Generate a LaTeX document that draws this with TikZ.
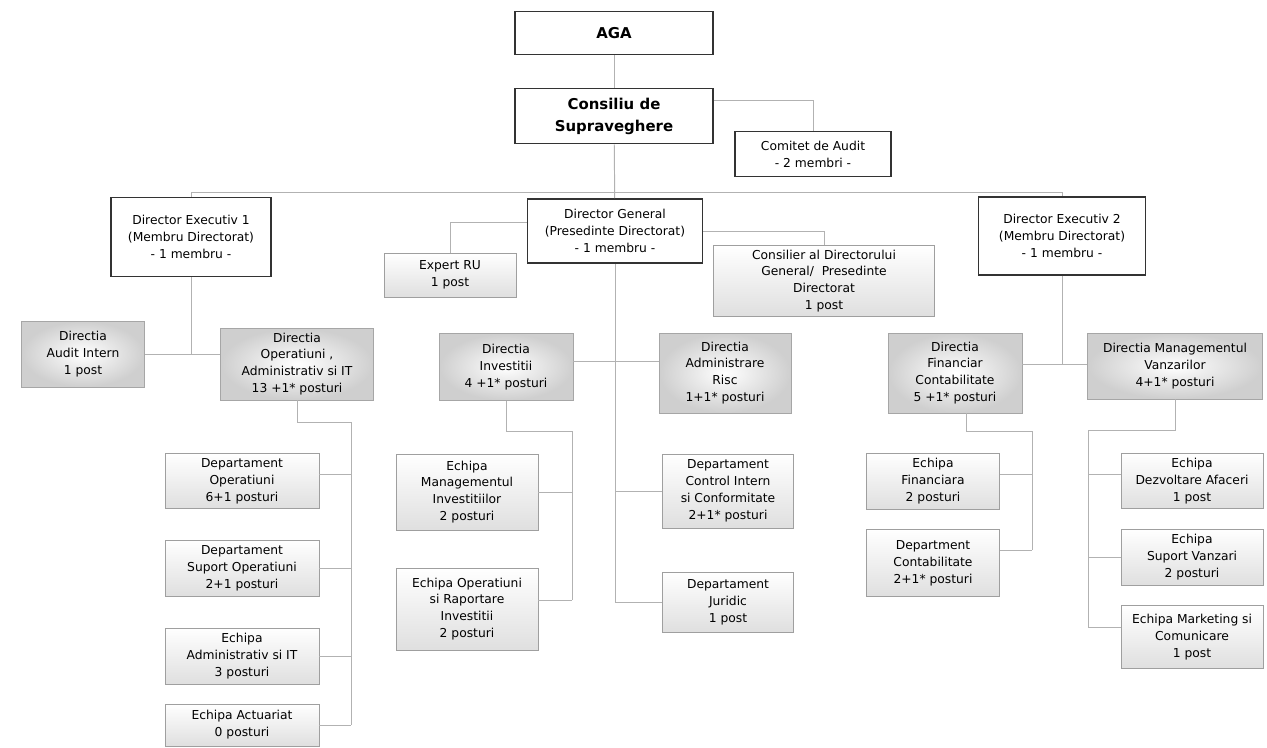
\documentclass[tikz,border=0pt]{standalone}
\usepackage{fontspec}
\setmainfont{DejaVu Sans}
\usepackage{tikz}

\tikzset{dim/.style 2 args={minimum width=#1*0.02cm, minimum height=#2*0.02cm}}

\begin{document}
\begin{tikzpicture}[x=0.02cm, y=-0.02cm, every node/.style={align=center, inner sep=1pt, font=\fontsize{7}{9.6}\selectfont}]
    \tikzstyle{box}=[rectangle, draw=gray!75, line width=0.5pt]
    \tikzstyle{board}=[box, draw=black!80, line width=0.9pt, fill=white]
    \tikzstyle{head}=[board, font=\fontsize{8.5}{12.5}\selectfont\bfseries]
    \tikzstyle{direction}=[box, draw=gray!70, inner color=white, outer color=gray!38]
    \tikzstyle{unit}=[box, top color=white, bottom color=gray!25]
    \tikzstyle{link}=[draw=gray!60, line width=0.55pt]

    \useasboundingbox (0,0) rectangle (1267,747);

    % Top level
    \node[head, dim={198}{43}] (AGA) at (614,33) {AGA};
    \node[head, dim={198}{55}] (CS) at (614,116) {Consiliu de\\Supraveghere};
    \node[board, line width=0.6pt, dim={156}{45}] (CA) at (813,154) {Comitet de Audit\\- 2 membri -};

    % Directorat
    \node[board, dim={160}{79}] (DE1) at (191,237) {Director Executiv 1\\(Membru Directorat)\\- 1 membru -};
    \node[board, dim={175}{64}] (DG) at (615,231) {Director General\\(Presedinte Directorat)\\- 1 membru -};
    \node[board, dim={167}{78}] (DE2) at (1062,236) {Director Executiv 2\\(Membru Directorat)\\- 1 membru -};
    \node[unit, dim={132}{44}] (ERU) at (450,275) {Expert RU\\1 post};
    \node[unit, dim={221}{71}] (CON) at (824,281) {Consilier al Directorului\\General/\ \ Presedinte\\Directorat\\1 post};

    % Directii
    \node[direction, dim={123}{66}] (DAI) at (83,354) {Directia\\Audit Intern\\1 post};
    \node[direction, dim={153}{72}] (DOP) at (297,364) {Directia\\Operatiuni ,\\Administrativ si IT\\13 +1* posturi};
    \node[direction, dim={134}{67}] (DIN) at (506,367) {Directia\\Investitii\\4 +1* posturi};
    \node[direction, dim={132}{80}] (DAR) at (725,373) {Directia\\Administrare\\Risc\\1+1* posturi};
    \node[direction, dim={134}{80}] (DFC) at (955,373) {Directia\\Financiar\\Contabilitate\\5 +1* posturi};
    \node[direction, dim={175}{66}] (DMV) at (1175,366) {Directia Managementul\\Vanzarilor\\4+1* posturi};

    % Departamente si echipe
    \node[unit, dim={154}{55}] (DPO) at (242,481) {Departament\\Operatiuni\\6+1 posturi};
    \node[unit, dim={154}{56}] (DSO) at (242,568) {Departament\\Suport Operatiuni\\2+1 posturi};
    \node[unit, dim={154}{56}] (EAI) at (242,656) {Echipa\\Administrativ si IT\\3 posturi};
    \node[unit, dim={154}{42}] (EAC) at (242,725) {Echipa Actuariat\\0 posturi};
    \node[unit, dim={142}{76}] (EMI) at (467,492) {Echipa\\Managementul\\Investitiilor\\2 posturi};
    \node[unit, dim={142}{82}] (EOR) at (467,609) {Echipa Operatiuni\\si Raportare\\Investitii\\2 posturi};
    \node[unit, dim={131}{74}] (DCI) at (728,491) {Departament\\Control Intern\\si Conformitate\\2+1* posturi};
    \node[unit, dim={131}{60}] (DJU) at (728,602) {Departament\\Juridic\\1 post};
    \node[unit, dim={133}{56}] (EFI) at (933,481) {Echipa\\Financiara\\2 posturi};
    \node[unit, dim={133}{67}] (DCO) at (933,563) {Department\\Contabilitate\\2+1* posturi};
    \node[unit, dim={142}{55}] (EDA) at (1192,481) {Echipa\\Dezvoltare Afaceri\\1 post};
    \node[unit, dim={142}{56}] (ESV) at (1192,557) {Echipa\\Suport Vanzari\\2 posturi};
    \node[unit, dim={142}{63}] (EMC) at (1192,637) {Echipa Marketing si\\Comunicare\\1 post};

    % Bus points
    \coordinate (busL) at (191,192);
    \coordinate (busR) at (1062,192);
    \coordinate (dgrow) at (615,361);
    \coordinate (de2row) at (1062,364);
    \coordinate (opbus) at (351,422);
    \coordinate (inbus) at (572,431);
    \coordinate (fcbus) at (1032,431);
    \coordinate (mvbus) at (1088,430);

    % Consiliu
    \draw[link] (AGA) -- (CS);
    \draw[link] (CS) -- (DG);
    \draw[link] (busL) -- (busR);
    \draw[link] (busL) -- (DE1);
    \draw[link] (busR) -- (DE2);
    \draw[link] ([yshift=0.32cm]CS.east) -| (CA);

    % Director General
    \draw[link] ([yshift=0.18cm]DG.west) -| (ERU);
    \draw[link] (DG.east) -| (CON);
    \draw[link] (DG) -- (DG |- DJU);
    \draw[link] (DIN.east |- dgrow) -- (DAR.west |- dgrow);
    \draw[link] (DCI) -- (DCI -| DG);
    \draw[link] (DJU) -- (DJU -| DG);

    % Director Executiv 1
    \draw[link] (DE1) -- (DE1 |- DAI);
    \draw[link] (DAI) -- (DAI -| DOP.west);
    \draw[link] (DOP) |- (opbus) -- (opbus |- EAC);
    \draw[link] ([yshift=0.14cm]DPO.east) -- ([yshift=0.14cm]DPO.east -| opbus);
    \draw[link] (DSO) -- (DSO -| opbus);
    \draw[link] (EAI) -- (EAI -| opbus);
    \draw[link] (EAC) -- (EAC -| opbus);

    % Directia Investitii
    \draw[link] (DIN) |- (inbus) -- ([yshift=0.18cm]inbus |- EOR);
    \draw[link] (EMI) -- (EMI -| inbus);
    \draw[link] ([yshift=0.18cm]EOR.east) -- ([yshift=0.18cm]EOR.east -| inbus);

    % Director Executiv 2
    \draw[link] (DE2) -- (de2row);
    \draw[link] (DFC.east |- de2row) -- (DMV.west |- de2row);
    \draw[link] ([xshift=0.22cm]DFC.south) |- (fcbus) -- ([yshift=0.26cm]fcbus |- DCO);
    \draw[link] ([yshift=0.14cm]EFI.east) -- ([yshift=0.14cm]EFI.east -| fcbus);
    \draw[link] ([yshift=0.26cm]DCO.east) -- ([yshift=0.26cm]DCO.east -| fcbus);
    \draw[link] (DMV) |- (mvbus) -- ([yshift=0.2cm]mvbus |- EMC);
    \draw[link] ([yshift=0.14cm]EDA.west) -- ([yshift=0.14cm]EDA.west -| mvbus);
    \draw[link] (ESV) -- (ESV -| mvbus);
    \draw[link] ([yshift=0.2cm]EMC.west) -- ([yshift=0.2cm]EMC.west -| mvbus);

\end{tikzpicture}
\end{document}
